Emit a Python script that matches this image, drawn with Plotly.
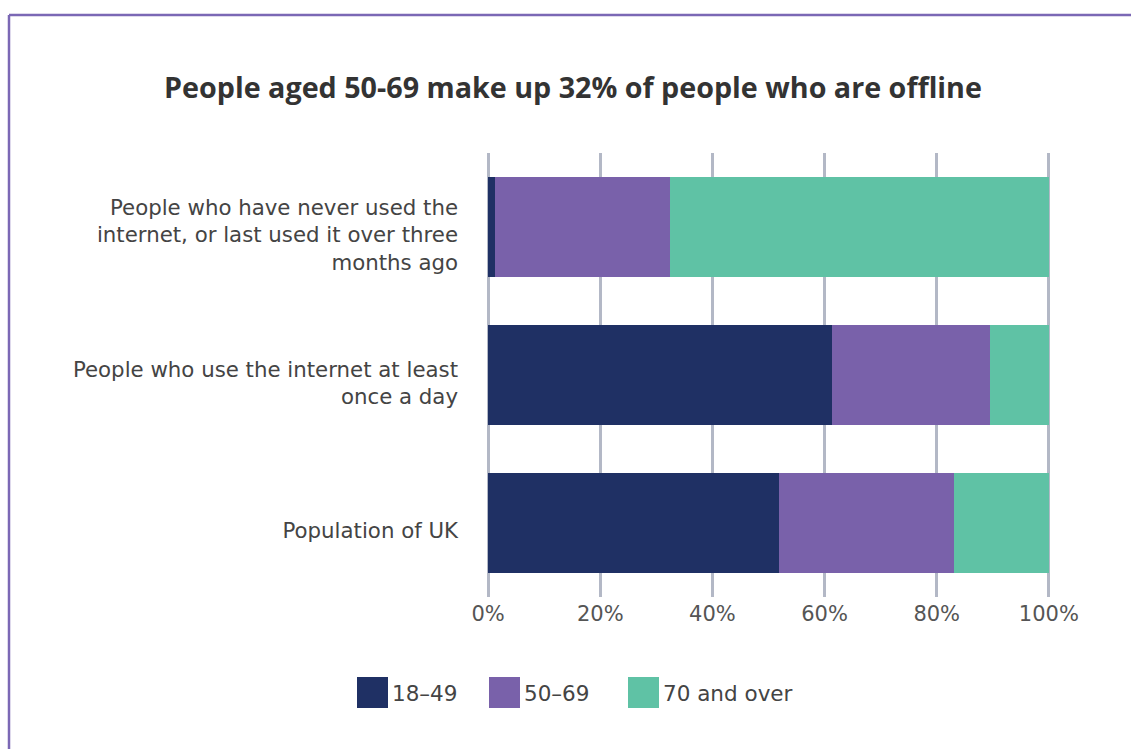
import plotly.graph_objects as go

categories = [
    "People who have never used the<br>internet, or last used it over three<br>months ago",
    "People who use the internet at least<br>once a day",
    "Population of UK",
]
series_names = ["18–49", "50–69", "70 and over"]
values_18_49 = [1.2, 61.3, 51.9]
values_50_69 = [31.2, 28.2, 31.2]
values_70_over = [67.6, 10.5, 16.9]
colors = ["#1f3064", "#7961aa", "#5fc2a5"]
tick_vals = [0, 20, 40, 60, 80, 100]
tick_text = ["0%", "20%", "40%", "60%", "80%", "100%"]

W, H = 1131, 749
L, R, T, B = 487, 81, 153, 152
PW, PH = W - L - R, H - T - B


def px(xpix):
    return (xpix - L) / PW


def py(ypix):
    return (H - B - ypix) / PH


fig = go.Figure()
for name, vals, col in zip(series_names, [values_18_49, values_50_69, values_70_over], colors):
    fig.add_trace(go.Bar(
        y=categories, x=vals, name=name, orientation="h",
        marker=dict(color=col, line=dict(width=0)),
        width=0.676, hoverinfo="x+name", showlegend=False,
    ))

# custom legend with large swatches
legend_swatch_x = [357, 489, 628]
shapes = []
annotations = []
for name, col, lx in zip(series_names, colors, legend_swatch_x):
    shapes.append(dict(type="rect", xref="paper", yref="paper",
                       x0=px(lx), x1=px(lx + 31), y0=py(708), y1=py(677),
                       fillcolor=col, line=dict(width=0)))
    annotations.append(dict(text=name, xref="paper", yref="paper",
                            x=px(lx + 33), y=py(693), xanchor="left", yanchor="middle",
                            showarrow=False, font=dict(size=21.5, color="#444444")))

shapes += [
    dict(type="line", xref="paper", yref="paper",
         x0=px(9), x1=px(1140), y0=py(15), y1=py(15),
         line=dict(color="#7b68b5", width=2.5)),
    dict(type="line", xref="paper", yref="paper",
         x0=px(9), x1=px(9), y0=py(15), y1=py(760),
         line=dict(color="#7b68b5", width=2.5)),
]

fig.update_layout(
    barmode="stack",
    width=W, height=H,
    margin=dict(l=L, r=R, t=T, b=B),
    paper_bgcolor="white", plot_bgcolor="white",
    font=dict(family="DejaVu Sans", color="#444444", size=20),
    title=dict(
        text="<b>People aged 50-69 make up 32% of people who are offline</b>",
        x=573 / W, xanchor="center", xref="container",
        y=1 - 88 / H, yanchor="middle", yref="container",
        font=dict(family="Open Sans", size=28.7, color="#333333"),
    ),
    xaxis=dict(
        range=[-0.2, 100.2], tickvals=tick_vals, ticktext=tick_text,
        showgrid=True, gridcolor="#b3b8c6", gridwidth=2.5,
        zeroline=False, showline=False, ticks="", ticklabelstandoff=2,
        tickfont=dict(size=21, color="#555555"),
        fixedrange=True,
    ),
    yaxis=dict(
        autorange="reversed", showgrid=False, zeroline=False, showline=False,
        ticks="", ticklabelstandoff=28, ticklabelshift=-8,
        tickfont=dict(size=21.3, color="#444444"),
        fixedrange=True,
    ),
    showlegend=False,
    bargap=0.324,
    shapes=shapes,
    annotations=annotations,
)

fig.write_html("out.html")
